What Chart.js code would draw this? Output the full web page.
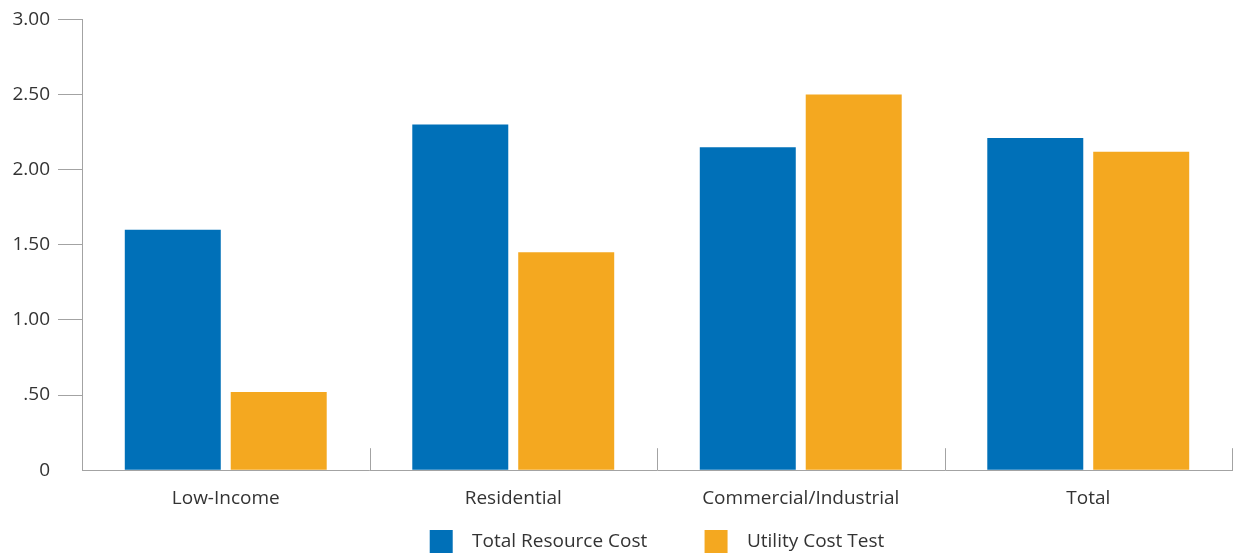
<!DOCTYPE html>
<html>
<head>
<meta charset="utf-8">
<script src="https://cdn.jsdelivr.net/npm/chart.js@4"></script>
<style>
  body { margin: 0; background: #fff; }
  #wrap { width: 1233px; height: 555px; position: relative; }
</style>
</head>
<body>
<div id="wrap"><canvas id="costChart"></canvas></div>
<script>
// chart data
const categories = ["Low-Income", "Residential", "Commercial/Industrial", "Total"];
const trcValues = [1.60, 2.30, 2.15, 2.21];
const uctValues = [0.52, 1.45, 2.50, 2.12];
const seriesNames = ["Total Resource Cost", "Utility Cost Test"];
const yTicks = [0, 0.5, 1, 1.5, 2, 2.5, 3];

const axisGray = "#a3a3a3";
const textColor = "#333333";
Chart.defaults.font.family = "'Open Sans', 'Noto Sans', sans-serif";
Chart.defaults.font.size = 19;
Chart.defaults.color = textColor;

// little upward marks between categories on the x axis
const separators = {
    id: "separators",
    afterDraw(chart) {
        const x = chart.scales.x, c = chart.ctx, bottom = chart.chartArea.bottom;
        c.save();
        c.strokeStyle = axisGray;
        c.lineWidth = 1;
        for (let i = 0; i < categories.length; i++) {
            const px = Math.round(x.getPixelForValue(i + 0.5)) + 0.5;
            c.beginPath();
            c.moveTo(px, bottom);
            c.lineTo(px, bottom - 22);
            c.stroke();
        }
        c.restore();
    }
};

ctx = document.getElementById("costChart").getContext("2d");
costChart = new Chart(ctx, {
    type: "bar",
    data: {
        labels: categories,
        datasets: [{
            label: seriesNames[0],
            data: trcValues,
            backgroundColor: "#0070b8",
            categoryPercentage: 0.737,
            barPercentage: 0.906
        },
        {
            label: seriesNames[1],
            data: uctValues,
            backgroundColor: "#f4a820",
            categoryPercentage: 0.737,
            barPercentage: 0.906
        }]
    },
    options: {
        responsive: true,
        maintainAspectRatio: false,
        animation: false,
        layout: {
            padding: {top: 7, right: 1, left: 0, bottom: -8}
        },
        scales: {
            x: {
                grid: {display: false, drawTicks: false},
                border: {color: axisGray, width: 1},
                ticks: {padding: 17, color: textColor}
            },
            y: {
                min: 0,
                max: 3,
                afterBuildTicks: s => { s.ticks = yTicks.map(v => ({value: v})); },
                afterFit: s => { s.width = 82; },
                grid: {
                    drawOnChartArea: false,
                    drawTicks: true,
                    tickLength: 24,
                    tickColor: c => (c.tick && c.tick.value === 0) ? "rgba(0,0,0,0)" : axisGray
                },
                border: {color: axisGray, width: 1},
                ticks: {
                    padding: 8,
                    color: textColor,
                    callback: v => v === 0 ? "0" : (v < 1 ? "." + v.toFixed(2).split(".")[1] : v.toFixed(2))
                }
            }
        },
        plugins: {
            legend: {
                position: "bottom",
                fullSize: false,
                labels: {
                    boxWidth: 23,
                    boxHeight: 23,
                    padding: 3,
                    color: textColor,
                    generateLabels: chart => Chart.defaults.plugins.legend.labels.generateLabels(chart)
                        .map((item, i, all) => Object.assign(item, {
                            text: "  " + item.text + (i < all.length - 1 ? "           " : "")
                        }))
                }
            },
            tooltip: {enabled: false}
        }
    },
    plugins: [separators]
});
</script>
</body>
</html>
